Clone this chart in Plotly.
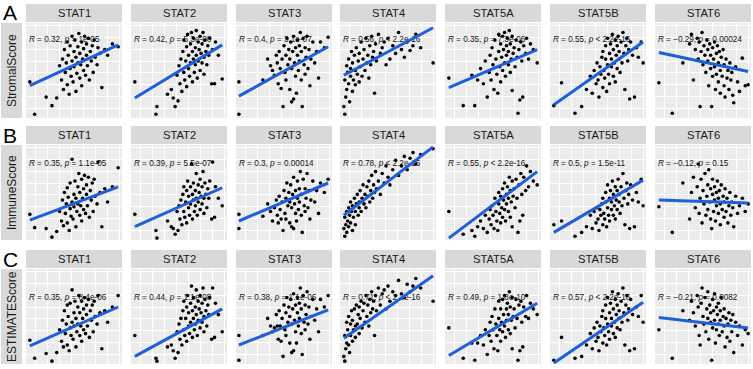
import plotly.graph_objects as go

W, H = 753, 369
FONT = "Liberation Sans, Arial, Helvetica, sans-serif"

genes = ["STAT1", "STAT2", "STAT3", "STAT4", "STAT5A", "STAT5B", "STAT6"]
scores = ["StromalScore", "ImmuneScore", "ESTIMATEScore"]
row_letters = ["A", "B", "C"]

# ---- gene expression (x, shared across rows; panel-normalised 0-100) ----
x_STAT1 = [4, 9, 21, 27, 32, 35, 37, 38, 39, 40, 41, 42, 43, 43, 44, 45, 46, 46, 47, 48, 48, 49, 50, 50, 51, 52, 52, 53, 54, 54, 55, 56, 56, 57, 58, 58, 59, 60, 60, 61, 62, 63, 63, 64, 65, 66, 67, 68, 69, 70, 71, 72, 74, 75, 77, 79, 82, 85, 90, 96]
x_STAT2 = [4, 26, 27, 38, 42, 44, 46, 48, 49, 50, 51, 52, 53, 54, 55, 55, 56, 57, 58, 58, 59, 60, 60, 61, 62, 62, 63, 64, 64, 65, 65, 66, 67, 67, 68, 68, 69, 70, 70, 71, 72, 72, 73, 74, 74, 75, 76, 76, 77, 78, 79, 80, 81, 82, 84, 85, 87, 88, 91, 95]
x_STAT3 = [3, 3, 28, 33, 36, 38, 40, 42, 43, 44, 45, 46, 47, 48, 49, 50, 51, 52, 52, 53, 54, 55, 56, 56, 57, 58, 58, 59, 60, 60, 61, 62, 62, 63, 64, 64, 65, 66, 66, 67, 68, 68, 69, 70, 71, 72, 72, 73, 74, 75, 76, 77, 78, 80, 82, 84, 86, 88, 92, 96]
x_STAT4 = [4, 5, 5, 6, 7, 7, 8, 9, 9, 10, 11, 11, 12, 13, 13, 14, 15, 16, 16, 17, 18, 19, 20, 20, 21, 22, 23, 24, 25, 26, 27, 28, 29, 30, 31, 32, 33, 34, 35, 36, 37, 38, 40, 42, 44, 46, 48, 50, 52, 55, 58, 61, 64, 67, 70, 73, 76, 79, 84, 97]
x_STAT5A = [4, 19, 28, 31, 34, 37, 40, 42, 44, 46, 47, 48, 49, 50, 51, 52, 53, 54, 55, 56, 56, 57, 58, 58, 59, 60, 60, 61, 62, 62, 63, 64, 64, 65, 66, 66, 67, 68, 68, 69, 70, 70, 71, 72, 73, 74, 75, 76, 77, 78, 79, 80, 81, 82, 84, 85, 87, 89, 92, 96]
x_STAT5B = [4, 12, 26, 33, 38, 42, 44, 46, 48, 49, 50, 51, 52, 53, 54, 55, 55, 56, 57, 58, 58, 59, 60, 60, 61, 62, 62, 63, 64, 64, 65, 66, 66, 67, 68, 68, 69, 70, 70, 71, 72, 72, 73, 74, 75, 76, 77, 78, 79, 80, 81, 82, 83, 84, 86, 88, 90, 92, 95, 97]
x_STAT6 = [4, 18, 29, 36, 38, 40, 42, 44, 45, 46, 47, 48, 49, 50, 51, 52, 53, 54, 55, 55, 56, 57, 58, 58, 59, 60, 60, 61, 62, 62, 63, 64, 64, 65, 66, 66, 67, 68, 68, 69, 70, 71, 72, 72, 73, 74, 75, 76, 77, 78, 79, 80, 81, 82, 84, 86, 88, 91, 94, 97]

# ---- scores (y) per panel, panel-normalised 0-100 ----
yA_STAT1 = [38,4,22,13,21,55,40,62,30,72,48,58,35,80,66,25,52,76,44,86,60,38,70,54,82,28,64,47,75,58,89,42,68,56,80,34,62,73,50,86,45,66,78,55,84,40,70,60,76,48,82,64,56,74,68,32,72,66,78,75]
yA_STAT2 = [38,4,12,25,30,21,12,45,18,55,36,62,28,70,48,82,40,60,75,33,88,52,66,44,78,58,90,38,70,62,84,48,74,56,92,66,42,80,60,72,86,50,68,78,58,90,64,46,82,70,56,76,66,84,36,72,36,80,66,41]
yA_STAT3 = [38,4,40,62,55,50,45,66,58,36,70,52,31,62,12,76,48,66,40,84,56,72,30,62,80,17,52,70,20,86,58,74,44,26,66,82,50,76,60,90,40,70,12,84,56,74,46,64,86,52,72,34,62,80,58,70,42,80,74,85]
yA_STAT4 = [12,4,40,22,55,30,48,62,36,17,52,44,70,28,58,40,66,50,35,74,46,60,38,68,54,80,44,62,72,50,84,58,66,42,76,56,86,64,70,26,78,60,88,68,74,80,56,84,62,76,68,90,72,64,80,71,76,88,74,58]
yA_STAT5A = [42,13,45,13,40,52,36,60,22,48,66,40,74,56,30,82,62,46,26,70,88,54,78,38,64,86,50,72,58,90,44,76,66,84,56,70,92,48,78,62,29,86,68,74,54,82,64,5,72,19,80,60,22,76,68,84,62,78,72,58]
yA_STAT5B = [13,37,5,12,30,44,26,50,36,58,40,22,54,46,64,32,70,50,42,62,76,28,56,84,46,68,36,78,54,62,88,44,72,58,82,38,66,76,52,86,62,70,48,80,58,90,68,30,76,84,60,72,20,80,66,22,74,64,80,58]
yA_STAT6 = [37,5,58,78,88,40,72,84,62,80,12,70,90,56,76,66,48,82,60,72,34,78,52,66,12,74,44,62,80,54,30,68,46,76,58,38,70,50,26,64,44,72,34,56,22,62,42,50,30,58,40,48,24,16,54,38,28,63,34,35]

yB_STAT1 = [27,13,12,3,9,30,20,42,15,50,28,38,18,55,45,10,33,60,25,85,40,22,48,35,62,14,44,30,56,38,70,26,50,36,64,20,44,54,32,68,28,48,58,36,66,24,52,42,60,30,64,46,38,82,50,14,54,40,56,76]
yB_STAT2 = [27,10,2,20,14,12,6,30,10,36,22,42,16,48,30,56,24,40,52,18,62,34,46,26,56,38,80,22,48,42,60,30,52,36,70,44,26,58,40,50,64,32,46,56,38,72,44,28,60,48,34,54,44,62,22,82,24,56,44,36]
yB_STAT3 = [27,12,25,38,30,20,34,42,26,18,46,32,22,40,10,52,28,44,22,60,36,50,18,40,58,14,34,48,12,66,38,52,28,20,44,62,32,54,40,72,26,48,8,64,36,54,30,44,70,34,52,22,42,62,40,52,28,60,50,64]
yB_STAT4 = [12,4,24,16,30,8,20,34,14,26,40,18,30,10,36,24,44,30,16,38,48,26,40,34,52,30,44,58,38,48,34,56,46,62,40,52,68,44,58,50,72,54,62,48,70,60,78,66,58,74,84,68,78,88,74,86,92,80,90,96]
yB_STAT5A = [30,6,10,4,14,20,12,26,8,22,32,16,36,26,12,44,30,20,10,38,50,28,46,18,34,54,24,42,32,60,20,48,38,56,30,44,66,24,52,40,14,62,46,54,34,64,44,8,58,20,70,48,26,66,52,78,56,72,62,58]
yB_STAT5B = [16,20,4,8,14,26,12,30,18,34,22,10,32,26,38,16,44,28,22,40,50,14,34,58,26,44,20,52,32,40,62,26,48,36,56,22,42,52,32,64,40,48,28,56,36,70,44,16,52,60,38,48,12,58,42,14,50,40,64,36]
yB_STAT6 = [35,8,60,22,50,66,34,56,80,28,44,64,18,52,38,70,26,46,58,32,74,40,22,54,12,48,64,30,42,56,20,50,36,62,28,44,52,16,38,58,32,46,24,40,54,30,44,18,36,50,26,40,34,14,46,28,36,44,30,38]

yC_STAT1 = [25,6,11,3,12,36,24,46,18,56,32,42,20,62,50,14,38,64,30,78,44,26,54,40,66,18,48,34,60,42,72,30,54,40,66,24,48,58,36,70,32,52,62,40,68,28,56,46,62,34,66,50,42,72,54,16,56,44,60,72]
yC_STAT2 = [30,6,3,18,20,14,6,34,12,42,26,48,20,56,36,66,30,48,60,24,72,40,54,32,64,44,82,28,56,48,70,36,60,42,78,52,30,66,46,58,72,38,54,64,44,80,50,34,68,56,40,62,52,70,26,80,28,64,52,34]
yC_STAT3 = [30,4,30,48,40,34,38,52,40,26,56,40,24,48,8,62,36,54,30,70,44,60,22,50,68,12,42,58,14,74,46,62,34,22,54,70,40,64,48,80,32,58,10,72,44,62,36,52,76,42,60,26,50,68,46,58,34,68,60,72]
yC_STAT4 = [8,3,30,16,44,22,36,50,20,12,42,30,56,24,46,36,58,40,28,62,42,52,32,60,48,66,38,56,64,44,72,50,62,40,68,54,76,58,66,30,72,56,80,62,74,78,58,82,66,76,72,88,74,70,84,76,82,90,80,66]
yC_STAT5A = [38,6,22,4,22,30,20,36,10,30,44,24,50,36,16,58,42,30,14,48,66,36,58,24,44,68,34,52,40,72,28,58,46,64,36,52,76,32,60,46,16,70,50,58,38,68,48,4,62,14,66,44,18,60,50,72,48,64,58,52]
yC_STAT5B = [4,28,6,8,20,32,16,38,24,44,28,14,40,34,50,22,56,38,30,48,62,20,42,70,34,54,26,64,40,48,76,32,58,44,68,28,52,62,38,74,48,56,36,66,44,80,54,20,62,72,46,58,14,68,52,16,60,50,72,44]
yC_STAT6 = [36,6,56,46,66,54,40,72,60,30,20,64,80,50,42,70,34,58,48,76,26,62,44,54,4,68,38,56,46,74,22,60,36,52,42,64,30,56,46,70,34,50,40,58,18,48,28,42,54,24,46,34,52,12,44,30,40,20,36,32]

# ---- fitted line values at min(x) and max(x), per panel ----
fit_A = [(34, 77), (21, 77), (23, 75), (45, 95), (32, 72), (14, 80), (69, 49)]
fit_B = [(21, 56), (14, 55), (20, 60), (26, 98), (2, 72), (8, 63), (42, 39)]
fit_C = [(19, 60), (8, 58), (20, 57), (27, 93), (9, 64), (1, 65), (49, 38)]

# ---- correlation labels ----
lab_A = ["R = 0.32, p = 1e-05", "R = 0.42, p = 5.3e-08", "R = 0.4, p = 3.1e-07", "R = 0.56, p < 2.2e-16",
         "R = 0.35, p = 7.3e-06", "R = 0.55, p < 2.2e-16", "R = \u22120.29, p = 0.00024"]
lab_B = ["R = 0.35, p = 1.1e-05", "R = 0.39, p = 5.5e-07", "R = 0.3, p = 0.00014", "R = 0.78, p < 2.2e-16",
         "R = 0.55, p < 2.2e-16", "R = 0.5, p = 1.5e-11", "R = \u22120.12, p = 0.15"]
lab_C = ["R = 0.35, p = 8.4e-06", "R = 0.44, p = 1.1e-08", "R = 0.38, p = 1.1e-06", "R = 0.71, p < 2.2e-16",
         "R = 0.49, p = 1.8e-10", "R = 0.57, p < 2.2e-16", "R = \u22120.21, p = 0.0082"]
lab_y = [82, 80, 69]

gene_x = [x_STAT1, x_STAT2, x_STAT3, x_STAT4, x_STAT5A, x_STAT5B, x_STAT6]
rows_y = [
    [yA_STAT1, yA_STAT2, yA_STAT3, yA_STAT4, yA_STAT5A, yA_STAT5B, yA_STAT6],
    [yB_STAT1, yB_STAT2, yB_STAT3, yB_STAT4, yB_STAT5A, yB_STAT5B, yB_STAT6],
    [yC_STAT1, yC_STAT2, yC_STAT3, yC_STAT4, yC_STAT5A, yC_STAT5B, yC_STAT6],
]
rows_fit = [fit_A, fit_B, fit_C]
rows_lab = [lab_A, lab_B, lab_C]

for r in range(3):
    for c in range(7):
        assert len(rows_y[r][c]) == len(gene_x[c]), (r, c, len(rows_y[r][c]), len(gene_x[c]))

# ---- layout geometry (pixels) ----
col_left = [26, 131, 236, 340, 445, 550, 655]
panel_w = 96
strip_top = [4, 126, 250]
strip_h = 19
plot_h = 95

def px(x):
    return x / W

def py(y):
    return 1 - y / H

fig = go.Figure()
layout = dict(
    width=W, height=H, autosize=False,
    margin=dict(l=0, r=0, t=0, b=0),
    paper_bgcolor="white", plot_bgcolor="#EBEBEB",
    showlegend=False, font=dict(family=FONT),
)
shapes = []
annotations = []

for r in range(3):
    top = strip_top[r] + strip_h
    bot = top + plot_h
    for c in range(7):
        k = r * 7 + c + 1
        xa = "x" if k == 1 else f"x{k}"
        ya = "y" if k == 1 else f"y{k}"
        left = col_left[c]
        axcommon = dict(range=[0, 100], showticklabels=False, ticks="", showline=False, zeroline=False,
                        showgrid=True, gridcolor="white", gridwidth=1.1, tick0=10, dtick=25,
                        minor=dict(showgrid=True, gridcolor="white", gridwidth=0.5, tick0=-2.5, dtick=12.5),
                        fixedrange=True)
        layout["xaxis" if k == 1 else f"xaxis{k}"] = dict(axcommon, domain=[px(left), px(left + panel_w)], anchor=ya)
        layout["yaxis" if k == 1 else f"yaxis{k}"] = dict(axcommon, domain=[py(bot), py(top)], anchor=xa)

        xs = gene_x[c]
        ys = rows_y[r][c]
        lab = rows_lab[r][c].replace("R =", "<i>R</i> =").replace("p ", "<i>p</i> ")
        fig.add_trace(go.Scatter(x=[3], y=[lab_y[r]], mode="text", text=[lab], textposition="middle right",
                                 textfont=dict(family=FONT, size=8.2, color="#111111"),
                                 xaxis=xa, yaxis=ya, hoverinfo="skip", cliponaxis=False))
        fig.add_trace(go.Scatter(x=xs, y=ys, mode="markers",
                                 marker=dict(size=3.6, color="black", line=dict(width=0)),
                                 xaxis=xa, yaxis=ya))
        f0, f1 = rows_fit[r][c]
        fig.add_trace(go.Scatter(x=[min(xs), max(xs)], y=[f0, f1], mode="lines",
                                 line=dict(color="#1f5fd9", width=3),
                                 xaxis=xa, yaxis=ya))
        # strip
        shapes.append(dict(type="rect", xref="paper", yref="paper", x0=px(left), x1=px(left + panel_w),
                           y0=py(strip_top[r] + strip_h - 1), y1=py(strip_top[r]), fillcolor="#D9D9D9",
                           line=dict(width=0), layer="below"))
        annotations.append(dict(text=genes[c], xref="paper", yref="paper", x=px(left + panel_w / 2),
                                y=py(strip_top[r] + (strip_h - 1) / 2), xanchor="center", yanchor="middle",
                                showarrow=False, font=dict(family=FONT, size=11.2, color="#1A1A1A")))
    # y title strip
    shapes.append(dict(type="rect", xref="paper", yref="paper", x0=px(1), x1=px(22),
                       y0=py(bot), y1=py(top), fillcolor="#D9D9D9", line=dict(width=0), layer="below"))
    annotations.append(dict(text=scores[r], xref="paper", yref="paper", x=px(11.5), y=py((top + bot) / 2),
                            xanchor="center", yanchor="middle", textangle=-90, showarrow=False,
                            font=dict(family=FONT, size=12, color="#1A1A1A")))
    annotations.append(dict(text=row_letters[r], xref="paper", yref="paper", x=px(1), y=py(strip_top[r] + 9),
                            xanchor="left", yanchor="middle", showarrow=False,
                            font=dict(family=FONT, size=21, color="black")))

layout["shapes"] = shapes
layout["annotations"] = annotations
fig.update_layout(**layout)
fig.write_html("out.html", config={"displayModeBar": False},
               post_script="document.body.style.margin='0px';document.body.style.overflow='hidden';")
